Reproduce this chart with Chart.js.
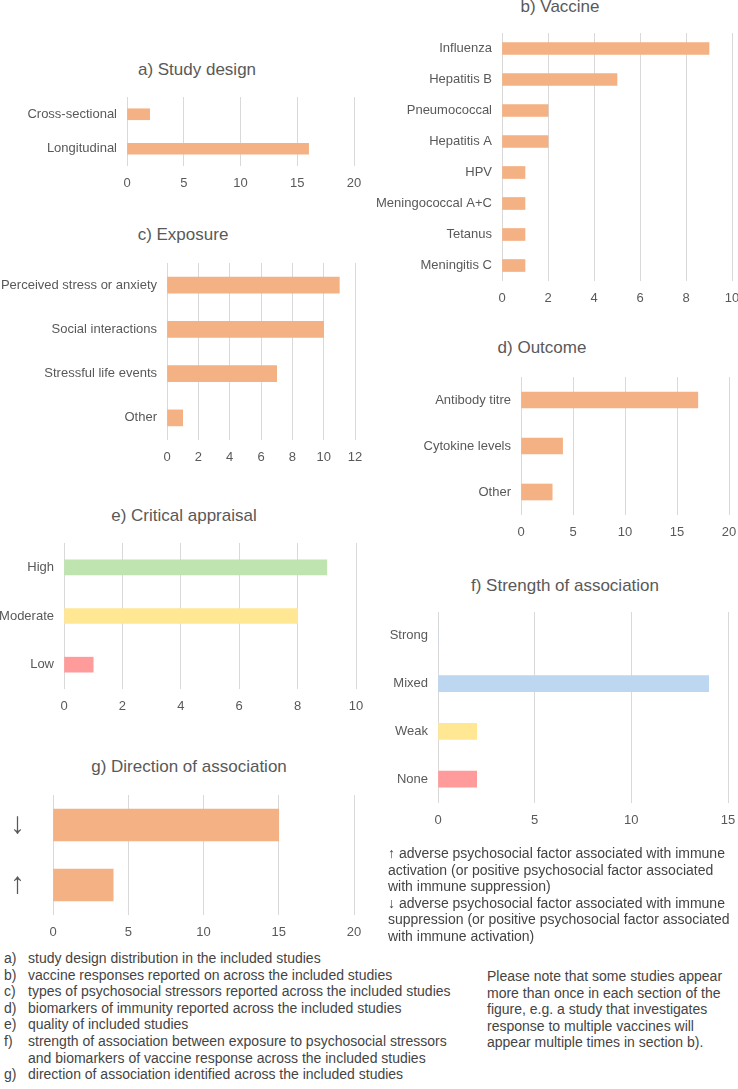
<!DOCTYPE html>
<html>
<head>
<meta charset="utf-8">
<script src="https://cdn.jsdelivr.net/npm/chart.js@4.4.1/dist/chart.umd.min.js"></script>
<style>
  body { margin: 0; width: 738px; height: 1089px; overflow: hidden; position: relative; background: #fff;
         font-family: 'Liberation Sans', Arial, sans-serif; }
  .panel { position: absolute; }
  .title { position: absolute; width: 300px; text-align: center; font-size: 17px; line-height: 20px; color: #595959; white-space: nowrap; }
  .txt { position: absolute; font-size: 14px; line-height: 16.6px; color: #444; white-space: nowrap; }
  .fn { position: absolute; left: 0; top: 950px; font-size: 14px; line-height: 16.6px; color: #444; }
  .fn div { position: relative; padding-left: 28px; white-space: nowrap; }
  .fn span { position: absolute; left: 4px; }
</style>
</head>
<body>

<script>
// a) study design
const designLabels = ['Cross-sectional', 'Longitudinal'];
const designCounts = [2, 16];
const designTicks = [0, 5, 10, 15, 20];

// b) vaccine
const vaccineLabels = ['Influenza', 'Hepatitis B', 'Pneumococcal', 'Hepatitis A', 'HPV', 'Meningococcal A+C', 'Tetanus', 'Meningitis C'];
const vaccineCounts = [9, 5, 2, 2, 1, 1, 1, 1];
const vaccineTicks = [0, 2, 4, 6, 8, 10];

// c) exposure
const exposureLabels = ['Perceived stress or anxiety', 'Social interactions', 'Stressful life events', 'Other'];
const exposureCounts = [11, 10, 7, 1];
const exposureTicks = [0, 2, 4, 6, 8, 10, 12];

// d) outcome
const outcomeLabels = ['Antibody titre', 'Cytokine levels', 'Other'];
const outcomeCounts = [17, 4, 3];
const outcomeTicks = [0, 5, 10, 15, 20];

// e) critical appraisal
const appraisalLabels = ['High', 'Moderate', 'Low'];
const appraisalCounts = [9, 8, 1];
const appraisalTicks = [0, 2, 4, 6, 8, 10];

// f) strength of association
const strengthLabels = ['Strong', 'Mixed', 'Weak', 'None'];
const strengthCounts = [0, 14, 2, 2];
const strengthTicks = [0, 5, 10, 15];

// g) direction of association
const directionLabels = ['\u2193', '\u2191'];
const directionCounts = [15, 4];
const directionTicks = [0, 5, 10, 15, 20];

const ORANGE = '#F4B183';
const GREEN = '#C0E4B0';
const YELLOW = '#FFE794';
const RED = '#FF9B9B';
const BLUE = '#BDD7F1';
const TEXT = '#595959';
const GRID = '#d9d9d9';

Chart.defaults.font.family = "'Liberation Sans', Arial, sans-serif";
Chart.defaults.color = TEXT;

// builds one panel: html title + canvas whose chart area sits at [x0..x1] x [gridTop..gridBottom]
function makePanel(p) {
  const t = document.createElement('div');
  t.className = 'title';
  t.textContent = p.title;
  t.style.left = (p.cx - 150) + 'px';
  t.style.top = (p.ty - 10) + 'px';
  document.body.appendChild(t);

  const axisH = 30;
  const right = p.x1 + 20;
  const wrap = document.createElement('div');
  wrap.className = 'panel';
  wrap.style.left = p.left + 'px';
  wrap.style.top = p.gridTop + 'px';
  wrap.style.width = (right - p.left) + 'px';
  wrap.style.height = (p.gridBottom - p.gridTop + axisH) + 'px';
  const cv = document.createElement('canvas');
  wrap.appendChild(cv);
  document.body.appendChild(wrap);

  const ticks = p.ticks;
  new Chart(cv, {
    type: 'bar',
    data: {
      labels: p.labels,
      datasets: [{
        data: p.values,
        backgroundColor: p.colors || ORANGE,
        barThickness: p.bar,
        borderWidth: 0
      }]
    },
    options: {
      indexAxis: 'y',
      responsive: true,
      maintainAspectRatio: false,
      animation: false,
      layout: { padding: { left: 0, right: right - p.x1, top: 0, bottom: 0 } },
      plugins: { legend: { display: false }, tooltip: { enabled: false } },
      scales: {
        x: {
          min: ticks[0],
          max: ticks[ticks.length - 1],
          ticks: { stepSize: ticks[1] - ticks[0], padding: 10, font: { size: 13 }, color: TEXT },
          grid: { color: GRID, lineWidth: 1, drawTicks: false },
          border: { display: false },
          afterFit: s => { s.height = axisH; }
        },
        y: {
          ticks: { padding: p.labelPad || 10, font: { size: p.labelSize || 13 }, color: TEXT },
          grid: { display: false, drawTicks: false },
          border: { display: false },
          // keep the plot area where the reference has it (no extra label padding)
          afterFit: s => { s.width = p.x0 - p.left; s.paddingTop = 0; s.paddingBottom = 0; }
        }
      }
    }
  });
}

makePanel({ title: 'a) Study design', cx: 197, ty: 70, gridTop: 97, gridBottom: 166, left: 10, x0: 127, x1: 354,
  labels: designLabels, values: designCounts, ticks: designTicks, bar: 11 });
makePanel({ title: 'b) Vaccine', cx: 560, ty: 7, gridTop: 33, gridBottom: 281, left: 372, x0: 502, x1: 732,
  labels: vaccineLabels, values: vaccineCounts, ticks: vaccineTicks, bar: 12 });
makePanel({ title: 'c) Exposure', cx: 183, ty: 235, gridTop: 263, gridBottom: 440, left: 0, x0: 167, x1: 355,
  labels: exposureLabels, values: exposureCounts, ticks: exposureTicks, bar: 16 });
makePanel({ title: 'd) Outcome', cx: 542, ty: 348, gridTop: 377, gridBottom: 515, left: 372, x0: 521, x1: 729,
  labels: outcomeLabels, values: outcomeCounts, ticks: outcomeTicks, bar: 16 });
makePanel({ title: 'e) Critical appraisal', cx: 184, ty: 516, gridTop: 543, gridBottom: 689, left: 0, x0: 64, x1: 356,
  labels: appraisalLabels, values: appraisalCounts, ticks: appraisalTicks, bar: 15, colors: [GREEN, YELLOW, RED] });
makePanel({ title: 'f) Strength of association', cx: 565, ty: 586, gridTop: 612, gridBottom: 803, left: 372, x0: 438, x1: 728,
  labels: strengthLabels, values: strengthCounts, ticks: strengthTicks, bar: 16, colors: [BLUE, BLUE, YELLOW, RED] });
makePanel({ title: 'g) Direction of association', cx: 189, ty: 767, gridTop: 795, gridBottom: 915, left: 0, x0: 53, x1: 354,
  labels: directionLabels, values: directionCounts, ticks: directionTicks, bar: 32, labelSize: 30, labelPad: 28 });
</script>

<div class="txt" style="left:388px; top:845px;">
&#8593; adverse psychosocial factor associated with immune<br>
activation (or positive psychosocial factor associated<br>
with immune suppression)<br>
&#8595; adverse psychosocial factor associated with immune<br>
suppression (or positive psychosocial factor associated<br>
with immune activation)
</div>

<div class="fn">
  <div><span>a)</span>study design distribution in the included studies</div>
  <div><span>b)</span>vaccine responses reported on across the included studies</div>
  <div><span>c)</span>types of psychosocial stressors reported across the included studies</div>
  <div><span>d)</span>biomarkers of immunity reported across the included studies</div>
  <div><span>e)</span>quality of included studies</div>
  <div><span>f)</span>strength of association between exposure to psychosocial stressors<br>and biomarkers of vaccine response across the included studies</div>
  <div><span>g)</span>direction of association identified across the included studies</div>
</div>

<div class="txt" style="left:487px; top:968px;">
Please note that some studies appear<br>
more than once in each section of the<br>
figure, e.g. a study that investigates<br>
response to multiple vaccines will<br>
appear multiple times in section b).
</div>

</body>
</html>
